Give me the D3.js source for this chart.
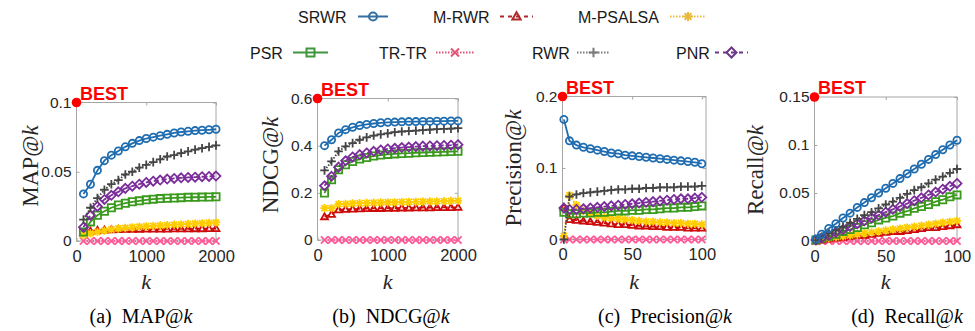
<!DOCTYPE html>
<html><head><meta charset="utf-8">
<script src="https://cdn.jsdelivr.net/npm/d3@7"></script>
<style>
html,body{margin:0;padding:0;background:#fff;}
svg{display:block;}
</style></head>
<body>
<svg id="chart" width="975" height="331"></svg>
<script>
// ---------------- DATA ----------------
const seriesNames = ["SRWR","PSR","M-RWR","TR-TR","M-PSALSA","RWR","PNR"];
const kLarge = [100,200,300,400,500,600,700,800,900,1000,1100,1200,1300,1400,1500,1600,1700,1800,1900,2000];
const kSmall = [1,5,10,15,20,25,30,35,40,45,50,55,60,65,70,75,80,85,90,95,100];

const mapSRWR   = [0.034,0.041,0.051,0.058,0.062,0.065,0.068,0.0705,0.0725,0.074,0.075,0.076,0.077,0.078,0.0787,0.0792,0.0797,0.080,0.0803,0.0807];
const mapPSR    = [0.0065,0.0138,0.0186,0.0215,0.024,0.026,0.0273,0.0283,0.029,0.0297,0.0302,0.0306,0.0309,0.0311,0.0313,0.0315,0.0316,0.0317,0.0318,0.0319];
const mapMRWR   = [0.006,0.0072,0.0078,0.008,0.0082,0.0083,0.0084,0.0085,0.0085,0.0086,0.0086,0.0087,0.0087,0.0088,0.0088,0.0088,0.0089,0.0089,0.009,0.009];
const mapTRTR   = [0,0,0,0,0,0,0,0,0,0,0,0,0,0,0,0,0,0,0,0];
const mapMPS    = [0.0043,0.0055,0.0065,0.0075,0.0083,0.009,0.0095,0.0099,0.0103,0.0106,0.0109,0.0112,0.0115,0.0118,0.012,0.0123,0.0126,0.0128,0.0131,0.0134];
const mapRWR    = [0.0155,0.024,0.031,0.037,0.041,0.044,0.048,0.050,0.053,0.055,0.057,0.059,0.061,0.062,0.0635,0.0647,0.066,0.067,0.068,0.069];
const mapPNR    = [0.010,0.0186,0.025,0.030,0.033,0.0355,0.038,0.0396,0.041,0.0423,0.0432,0.044,0.0447,0.0452,0.0456,0.0459,0.0461,0.0464,0.0466,0.0469];

const ndcgSRWR  = [0.400,0.425,0.454,0.468,0.478,0.485,0.490,0.494,0.497,0.499,0.500,0.501,0.502,0.502,0.503,0.503,0.504,0.504,0.505,0.505];
const ndcgPSR   = [0.199,0.255,0.298,0.319,0.333,0.343,0.350,0.356,0.360,0.363,0.365,0.367,0.368,0.370,0.371,0.372,0.373,0.374,0.375,0.376];
const ndcgMRWR  = [0.099,0.109,0.128,0.130,0.131,0.132,0.133,0.134,0.134,0.135,0.135,0.136,0.136,0.137,0.137,0.137,0.138,0.138,0.138,0.139];
const ndcgTRTR  = [0,0,0,0,0,0,0,0,0,0,0,0,0,0,0,0,0,0,0,0];
const ndcgMPS   = [0.135,0.135,0.152,0.153,0.155,0.156,0.157,0.158,0.159,0.160,0.160,0.161,0.162,0.162,0.163,0.164,0.164,0.165,0.166,0.167];
const ndcgRWR   = [0.295,0.333,0.376,0.397,0.411,0.425,0.435,0.443,0.448,0.452,0.457,0.460,0.462,0.464,0.466,0.468,0.470,0.471,0.472,0.474];
const ndcgPNR   = [0.230,0.270,0.309,0.336,0.352,0.362,0.369,0.376,0.382,0.386,0.389,0.392,0.394,0.396,0.398,0.399,0.400,0.401,0.402,0.404];

const precSRWR  = [0.168,0.138,0.132,0.129,0.127,0.125,0.123,0.121,0.120,0.118,0.117,0.116,0.115,0.114,0.113,0.112,0.111,0.110,0.109,0.108,0.106];
const precPSR   = [0.038,0.036,0.036,0.037,0.037,0.038,0.038,0.039,0.040,0.040,0.041,0.041,0.042,0.042,0.043,0.044,0.044,0.045,0.045,0.046,0.047];
const precMRWR  = [0.045,0.028,0.027,0.026,0.025,0.024,0.023,0.022,0.021,0.021,0.020,0.019,0.019,0.018,0.018,0.017,0.017,0.017,0.016,0.016,0.016];
const precTRTR  = [0,0,0,0,0,0,0,0,0,0,0,0,0,0,0,0,0,0,0,0,0];
const precMPS   = [0.005,0.062,0.048,0.040,0.036,0.033,0.031,0.030,0.029,0.028,0.027,0.026,0.025,0.025,0.024,0.024,0.023,0.023,0.022,0.022,0.021];
const precRWR   = [0.0,0.060,0.063,0.065,0.066,0.067,0.068,0.069,0.070,0.070,0.071,0.071,0.072,0.072,0.073,0.073,0.073,0.074,0.074,0.074,0.075];
const precPNR   = [0.044,0.042,0.042,0.043,0.044,0.045,0.046,0.047,0.048,0.049,0.050,0.051,0.052,0.053,0.054,0.055,0.056,0.057,0.057,0.058,0.059];

const recSRWR   = [0.002,0.007,0.013,0.018,0.024,0.029,0.035,0.040,0.045,0.050,0.055,0.060,0.065,0.070,0.075,0.080,0.085,0.090,0.095,0.100,0.105];
const recPSR    = [0.001,0.003,0.005,0.007,0.010,0.012,0.014,0.017,0.019,0.022,0.024,0.026,0.029,0.031,0.034,0.036,0.038,0.041,0.043,0.046,0.048];
const recMRWR   = [0.000,0.001,0.002,0.003,0.004,0.005,0.006,0.006,0.007,0.008,0.009,0.010,0.010,0.011,0.012,0.013,0.014,0.014,0.015,0.016,0.017];
const recTRTR   = [0,0,0,0,0,0,0,0,0,0,0,0,0,0,0,0,0,0,0,0,0];
const recMPS    = [0.000,0.002,0.003,0.004,0.005,0.006,0.007,0.008,0.009,0.010,0.011,0.012,0.013,0.014,0.015,0.016,0.017,0.018,0.019,0.020,0.021];
const recRWR    = [0.001,0.004,0.008,0.011,0.015,0.019,0.023,0.027,0.030,0.034,0.038,0.041,0.045,0.049,0.053,0.056,0.060,0.064,0.067,0.071,0.075];
const recPNR    = [0.001,0.003,0.006,0.009,0.012,0.015,0.018,0.021,0.024,0.027,0.030,0.033,0.036,0.039,0.042,0.045,0.048,0.051,0.054,0.057,0.060];

const xTicksLarge = [0,1000,2000];
const xTicksSmall = [0,50,100];
const yTicksMAP  = [0,0.05,0.1];
const yTicksNDCG = [0,0.2,0.4,0.6];
const yTicksPrec = [0,0.1,0.2];
const yTicksRec  = [0,0.05,0.1,0.15];
const yLabelStems = ["MAP@","NDCG@","Precision@","Recall@"];
const captionLetters = ["(a)","(b)","(c)","(d)"];
const bestLabel = "BEST";

// ---------------- STYLES ----------------
const styles = {
  "SRWR":     {color:"#1f6db0", legend:"#336ea3", dash:null,   marker:"circle"},
  "PSR":      {color:"#3a9a1c", legend:"#3f963f", dash:null,   marker:"square"},
  "M-RWR":    {color:"#cc0a0a", legend:"#b0282d", dash:"5,3", marker:"triangle"},
  "TR-TR":    {color:"#ff5a96", legend:"#e05577", dash:"1.5,1.5", marker:"x"},
  "M-PSALSA": {color:"#ffcc00", legend:"#e8b93c", dash:"1.5,1.5", marker:"asterisk"},
  "RWR":      {color:"#454545", legend:"#7a7a7a", dash:"1.5,1.5", marker:"plus"},
  "PNR":      {color:"#7b2d9a", legend:"#6b3787", dash:"5,3", marker:"diamond"}
};
const drawOrder = ["TR-TR","M-RWR","M-PSALSA","PSR","PNR","RWR","SRWR"];

function markerPath(type, r){
  switch(type){
    case "circle": return `M${-r},0A${r},${r},0,1,0,${r},0A${r},${r},0,1,0,${-r},0Z`;
    case "square": return `M${-r},${-r}H${r}V${r}H${-r}Z`;
    case "triangle": { const h=r*1.15; return `M0,${-h}L${h},${h*0.75}L${-h},${h*0.75}Z`; }
    case "diamond": { const d=r*1.25; return `M0,${-d}L${d},0L0,${d}L${-d},0Z`; }
    case "x": return `M${-r},${-r}L${r},${r}M${-r},${r}L${r},${-r}`;
    case "plus": { const p=r*1.2; return `M${-p},0H${p}M0,${-p}V${p}`; }
    case "asterisk": { const p=r*1.15, q=r*0.85; return `M${-p},0H${p}M0,${-p}V${p}M${-q},${-q}L${q},${q}M${-q},${q}L${q},${-q}`; }
  }
}

const panels = [
  {x:kLarge, data:{"SRWR":mapSRWR,"PSR":mapPSR,"M-RWR":mapMRWR,"TR-TR":mapTRTR,"M-PSALSA":mapMPS,"RWR":mapRWR,"PNR":mapPNR},
   xDom:[0,2000], yDom:[0,0.1], xTicks:xTicksLarge, yTicks:yTicksMAP,
   box:{l:76.5,r:216,t:102.5,b:241}, ylab:{x:38,y:166}, cap:{x:141}},
  {x:kLarge, data:{"SRWR":ndcgSRWR,"PSR":ndcgPSR,"M-RWR":ndcgMRWR,"TR-TR":ndcgTRTR,"M-PSALSA":ndcgMPS,"RWR":ndcgRWR,"PNR":ndcgPNR},
   xDom:[0,2000], yDom:[0,0.6], xTicks:xTicksLarge, yTicks:yTicksNDCG,
   box:{l:317.5,r:458,t:98.5,b:240}, ylab:{x:278,y:165}, cap:{x:391}},
  {x:kSmall, data:{"SRWR":precSRWR,"PSR":precPSR,"M-RWR":precMRWR,"TR-TR":precTRTR,"M-PSALSA":precMPS,"RWR":precRWR,"PNR":precPNR},
   xDom:[0,103], yDom:[0,0.2], xTicks:xTicksSmall, yTicks:yTicksPrec,
   box:{l:562.5,r:706,t:96.5,b:239.5}, ylab:{x:521,y:168}, cap:{x:665}},
  {x:kSmall, data:{"SRWR":recSRWR,"PSR":recPSR,"M-RWR":recMRWR,"TR-TR":recTRTR,"M-PSALSA":recMPS,"RWR":recRWR,"PNR":recPNR},
   xDom:[0,100], yDom:[0,0.15], xTicks:xTicksSmall, yTicks:yTicksRec,
   box:{l:814.5,r:957,t:97,b:241}, ylab:{x:763,y:170}, cap:{x:907}}
];

const svg = d3.select("#chart");
const sans = "'Liberation Sans', Arial, Helvetica, sans-serif";
const serif = "'Liberation Serif', 'DejaVu Serif', serif";
const fmt = d3.format("~g");

panels.forEach((p,i)=>{
  const xs = d3.scaleLinear().domain(p.xDom).range([p.box.l,p.box.r]);
  const ys = d3.scaleLinear().domain(p.yDom).range([p.box.b,p.box.t]);
  const g = svg.append("g");

  g.append("rect").attr("x",p.box.l).attr("y",p.box.t)
    .attr("width",p.box.r-p.box.l).attr("height",p.box.b-p.box.t)
    .attr("fill","none").attr("stroke","#a6a6a6").attr("stroke-width",1);

  const axB = d3.axisBottom(xs).tickValues(p.xTicks).tickSizeInner(-3).tickSizeOuter(0).tickPadding(9).tickFormat(fmt);
  const axT = d3.axisTop(xs).tickValues(p.xTicks).tickSizeInner(-3).tickSizeOuter(0).tickFormat("");
  const axL = d3.axisLeft(ys).tickValues(p.yTicks).tickSizeInner(-3).tickSizeOuter(0).tickPadding(5).tickFormat(fmt);
  const axR = d3.axisRight(ys).tickValues(p.yTicks).tickSizeInner(-3).tickSizeOuter(0).tickFormat("");
  [[axB,`translate(0,${p.box.b})`,16.5],[axT,`translate(0,${p.box.t})`,16.5],[axL,`translate(${p.box.l},0)`,15.5],[axR,`translate(${p.box.r},0)`,15.5]]
    .forEach(([ax,tr,fs])=>{
      const a = g.append("g").attr("transform",tr).call(ax);
      a.select(".domain").remove();
      a.selectAll("line").attr("stroke","#a6a6a6");
      a.selectAll("text").attr("font-family",sans).attr("font-size",fs).attr("fill","#262626");
    });

  drawOrder.forEach(name=>{
    const st = styles[name];
    const vals = p.data[name];
    const pts = p.x.map((k,j)=>[k,vals[j]]);
    const line = d3.line().x(d=>xs(d[0])).y(d=>ys(d[1]));
    g.append("path").attr("d",line(pts)).attr("fill","none")
      .attr("stroke",st.color).attr("stroke-width",1.8)
      .attr("stroke-dasharray",st.dash);
    g.append("g").selectAll("path").data(pts).join("path")
      .attr("transform",d=>`translate(${xs(d[0])},${ys(d[1])})`)
      .attr("d",markerPath(st.marker, st.marker==="triangle"?3.0:3.6))
      .attr("fill","none").attr("stroke",st.color).attr("stroke-width",1.8);
  });

  const bx = xs(p.xDom[0]), by = ys(p.yDom[1]);
  g.append("circle").attr("cx",bx).attr("cy",by).attr("r",4.8).attr("fill","#ff0000");
  g.append("text").attr("x",bx+3.5).attr("y",by-3).text(bestLabel)
    .attr("font-family",sans).attr("font-weight","bold").attr("font-size",18).attr("fill","#ff0000");

  const yl = g.append("text").attr("transform",`translate(${p.ylab.x},${p.ylab.y}) rotate(-90)`)
    .attr("text-anchor","middle").attr("font-family",serif).attr("font-size",23).attr("fill","#262626");
  yl.append("tspan").text(yLabelStems[i]);
  yl.append("tspan").attr("font-style","italic").text("k");

  g.append("text").attr("x",(p.box.l+p.box.r)/2).attr("y",289).attr("text-anchor","middle")
    .attr("font-family",serif).attr("font-style","italic").attr("font-size",22).attr("fill","#262626").text("k");

  const cp = g.append("text").attr("x",p.cap.x).attr("y",323).attr("text-anchor","middle")
    .attr("font-family",serif).attr("font-size",20).attr("fill","#000");
  cp.append("tspan").text(captionLetters[i]+"\u00a0\u00a0"+yLabelStems[i]);
  cp.append("tspan").attr("font-style","italic").text("k");
});

// ---------------- LEGEND ----------------
const legendItems = [
  {name:"SRWR", tx:298, ly:16.5, l0:358, l1:388},
  {name:"M-RWR", tx:433, ly:16.5, l0:500, l1:533},
  {name:"M-PSALSA", tx:578, ly:16.5, l0:670, l1:706},
  {name:"PSR", tx:250, ly:52.5, l0:293, l1:328},
  {name:"TR-TR", tx:379, ly:52.5, l0:436, l1:474},
  {name:"RWR", tx:532, ly:52.5, l0:577, l1:610},
  {name:"PNR", tx:676, ly:52.5, l0:715, l1:748}
];
const lg = svg.append("g");
legendItems.forEach(it=>{
  const st = styles[it.name];
  lg.append("text").attr("x",it.tx).attr("y",it.ly+6).text(it.name)
    .attr("font-family",sans).attr("font-size",16).attr("fill","#1a1a1a");
  lg.append("line").attr("x1",it.l0).attr("x2",it.l1).attr("y1",it.ly).attr("y2",it.ly)
    .attr("stroke",st.legend).attr("stroke-width",2).attr("stroke-dasharray",st.dash==="5,3"?"4,4":st.dash);
  lg.append("path").attr("transform",`translate(${(it.l0+it.l1)/2},${it.ly})`)
    .attr("d",markerPath(st.marker, st.marker==="triangle"?3.6:4))
    .attr("fill","none").attr("stroke",st.legend).attr("stroke-width",2);
});
</script>
</body></html>
